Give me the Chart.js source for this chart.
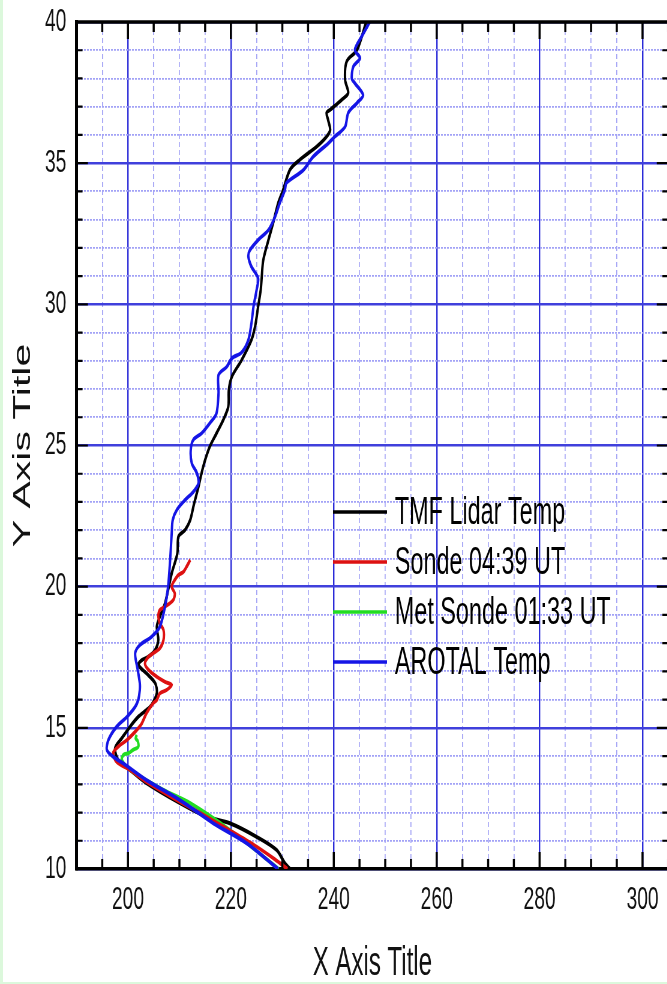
<!DOCTYPE html>
<html>
<head>
<meta charset="utf-8">
<script src="https://cdn.jsdelivr.net/npm/chart.js@4.4.1/dist/chart.umd.min.js"></script>
<style>
  html, body { margin: 0; padding: 0; overflow: hidden; background: #fff; }
  #wrap { position: absolute; left: 0; top: 0; width: 667px; height: 984px; overflow: hidden; }
  #chart { position: absolute; left: 0; top: 0; transform: scaleX(0.6); transform-origin: 0 0; }
  .strip-left { position: absolute; left: 0; top: 0; width: 3px; height: 984px; background: #dcf8dc; }
  .strip-bottom { position: absolute; left: 0; bottom: 0; width: 667px; height: 2px; background: #dcf8dc; }
</style>
</head>
<body>
<div id="wrap"><canvas id="chart" width="1120" height="984"></canvas></div>
<div class="strip-left"></div>
<div class="strip-bottom"></div>
<script>
// temperature profiles, [temperature, altitude]
const tmfProfile = [
  [231.5, 10.0], [230.5, 10.2], [228.9, 10.67], [225.0, 11.14], [219.8, 11.62], [215.3, 11.85],
  [210.1, 12.33], [203.6, 13.04], [200.4, 13.51], [198.1, 13.86], [197.5, 14.28], [198.8, 14.63],
  [200.4, 15.04], [202.0, 15.39], [203.6, 15.63], [204.6, 15.81], [205.6, 16.22], [205.3, 16.58],
  [203.6, 16.93], [202.0, 17.23], [202.7, 17.40], [204.0, 17.52], [205.3, 17.76], [205.9, 18.11],
  [205.6, 18.58], [206.2, 18.94], [207.2, 19.41], [207.8, 19.88], [208.5, 20.47], [209.6, 21.18],
  [209.8, 21.77], [211.1, 22.01], [212.1, 22.36], [212.8, 22.9], [213.7, 23.54], [214.3, 24.02],
  [215.0, 24.49], [215.9, 24.96], [217.2, 25.43], [218.5, 25.90], [219.5, 26.38], [219.6, 26.97],
  [220.2, 27.44], [222.1, 28.03], [224.0, 28.74], [224.7, 29.21], [225.3, 29.92], [225.8, 30.51],
  [226.0, 30.98], [226.3, 31.57], [227.3, 32.28], [228.2, 32.87], [229.2, 33.58], [230.1, 34.02],
  [231.5, 34.77], [233.4, 35.12], [236.7, 35.59], [238.6, 35.94], [239.3, 36.18], [238.9, 36.53],
  [238.6, 36.78], [239.3, 36.89], [241.5, 37.24], [242.8, 37.49], [242.2, 37.95], [242.5, 38.60],
  [244.5, 39.01], [246.3, 40.0]
];
const sondeProfile = [
  [231.0, 10.0], [228.5, 10.35], [224.5, 10.85], [219.0, 11.45], [215.3, 11.85], [210.1, 12.38],
  [203.6, 13.09], [200.4, 13.51], [197.8, 13.8], [197.1, 14.1], [198.1, 14.33], [199.8, 14.57],
  [201.4, 14.86], [202.7, 15.16], [203.6, 15.52], [204.9, 15.87], [205.6, 15.99], [206.2, 16.22],
  [207.5, 16.34], [208.5, 16.52], [207.2, 16.63], [205.6, 16.81], [204.0, 17.05], [203.3, 17.28],
  [204.0, 17.52], [204.9, 17.64], [206.2, 17.82], [206.9, 18.11], [206.9, 18.47], [206.2, 18.7],
  [205.9, 18.94], [206.2, 19.17], [207.2, 19.29], [208.8, 19.53], [209.1, 19.76], [208.5, 20.0],
  [209.1, 20.24], [209.8, 20.41], [210.8, 20.53], [211.4, 20.71], [211.9, 20.88], [212.1, 20.95]
];
const metSondeProfile = [
  [229.3, 10.0], [219.8, 11.38], [212.1, 12.33], [206.9, 12.8], [200.4, 13.51], [198.8, 13.86],
  [199.1, 14.04], [200.1, 14.1], [201.0, 14.22], [202.0, 14.33], [201.9, 14.53], [201.5, 14.62],
  [201.7, 14.75]
];
const arotalProfile = [
  [229.2, 10.0], [223.1, 10.91], [216.6, 11.62], [210.1, 12.44], [203.6, 13.15], [199.1, 13.74],
  [197.1, 13.98], [195.9, 14.22], [196.2, 14.57], [197.8, 15.04], [199.8, 15.39], [201.4, 15.75],
  [202.0, 15.99], [202.3, 16.34], [202.3, 16.58], [201.9, 17.05], [201.4, 17.64], [202.3, 17.93],
  [204.6, 18.23], [206.2, 18.58], [207.2, 19.29], [207.8, 20.0], [208.2, 20.95], [208.5, 21.89],
  [208.7, 22.36], [209.5, 22.72], [211.1, 23.07], [212.7, 23.36], [213.7, 23.66], [213.4, 24.02],
  [212.4, 24.37], [212.2, 24.84], [212.7, 25.2], [214.3, 25.43], [215.9, 25.79], [217.2, 26.14],
  [217.6, 26.85], [217.6, 27.5], [219.2, 27.79], [220.2, 28.09], [222.1, 28.3], [223.4, 28.74],
  [224.0, 29.33], [224.4, 29.92], [225.0, 30.51], [225.3, 30.92], [224.0, 31.33], [223.4, 31.69],
  [223.7, 31.92], [225.3, 32.28], [227.3, 32.63], [228.6, 33.11], [229.5, 33.59], [230.5, 34.05],
  [230.8, 34.3], [234.1, 34.76], [236.0, 35.23], [238.9, 35.7], [240.2, 35.94], [242.2, 36.29],
  [242.8, 36.78], [244.5, 37.13], [245.7, 37.41], [244.1, 37.83], [243.5, 38.0], [243.8, 38.42],
  [245.1, 38.72], [244.1, 39.01], [245.4, 39.48], [247.0, 40.0]
];

const seriesNames = ['TMF Lidar Temp', 'Sonde 04:39 UT', 'Met Sonde 01:33 UT', 'AROTAL Temp'];
const seriesColors = ['#000000', '#dd1111', '#22dd22', '#1515e6'];
const xTickLabels = [200, 220, 240, 260, 280, 300];
const yTickLabels = [10, 15, 20, 25, 30, 35, 40];
const xRange = [190, 305], xMinorStep = 5;
const yRange = [10, 40], yMinorStep = 1;

const FONT = "'Liberation Sans', Arial, sans-serif";
const MAJOR_BLUE = '#2b2bd8';
const MINOR_BLUE = '#a3a3f6';

function stepTicks(range, step) {
  const out = [];
  for (let v = range[0]; v <= range[1] + 1e-9; v += step) out.push({ value: v });
  return out;
}

// top frame + inward tick marks on all four sides
const frameTicks = {
  id: 'frameTicks',
  afterDraw(chart) {
    const { ctx, chartArea: a, scales: { x, y } } = chart;
    ctx.save();
    ctx.strokeStyle = '#000';
    ctx.lineWidth = 3.5;
    ctx.beginPath(); ctx.moveTo(a.left, a.top); ctx.lineTo(a.right, a.top); ctx.stroke();
    ctx.lineWidth = 5;
    ctx.beginPath(); ctx.moveTo(a.right + 2, a.top); ctx.lineTo(a.right + 2, a.bottom); ctx.stroke();
    ctx.lineWidth = 3.5;
    x.ticks.forEach(t => {
      const px = x.getPixelForValue(t.value);
      const len = xTickLabels.includes(t.value) ? 17 : 10;
      ctx.beginPath();
      ctx.moveTo(px, a.bottom); ctx.lineTo(px, a.bottom - len);
      ctx.moveTo(px, a.top); ctx.lineTo(px, a.top + len);
      ctx.stroke();
    });
    ctx.lineWidth = 2.2;
    y.ticks.forEach(t => {
      const py = y.getPixelForValue(t.value);
      const len = yTickLabels.includes(t.value) ? 19 : 10;
      ctx.beginPath();
      ctx.moveTo(a.left, py); ctx.lineTo(a.left + len, py);
      ctx.moveTo(a.right, py); ctx.lineTo(a.right - len, py);
      ctx.stroke();
    });
    ctx.restore();
  }
};

// legend inside the plot
const insideLegend = {
  id: 'insideLegend',
  afterDraw(chart) {
    const { ctx } = chart;
    ctx.save();
    ctx.font = '39px ' + FONT;
    ctx.textBaseline = 'middle';
    ctx.textAlign = 'left';
    chart.data.datasets.forEach((ds, i) => {
      const yy = 512 + i * 50;
      ctx.strokeStyle = ds.borderColor;
      ctx.lineWidth = 3.5;
      ctx.beginPath(); ctx.moveTo(555, yy); ctx.lineTo(645, yy); ctx.stroke();
      ctx.fillStyle = '#000';
      ctx.fillText(ds.label, 658, yy + 1);
    });
    ctx.restore();
  }
};

const profiles = [tmfProfile, sondeProfile, metSondeProfile, arotalProfile];
const drawOrder = [3, 1, 2, 0];

new Chart(document.getElementById('chart'), {
  type: 'scatter',
  data: {
    datasets: profiles.map((p, i) => ({
      label: seriesNames[i],
      data: p.map(([t, h]) => ({ x: t, y: h })),
      showLine: true,
      borderColor: seriesColors[i],
      backgroundColor: seriesColors[i],
      borderWidth: 4,
      pointRadius: 0,
      tension: 0.3,
      order: drawOrder[i]
    }))
  },
  options: {
    responsive: false,
    animation: false,
    layout: { padding: { top: 22, right: 6.3, bottom: 0, left: 0 } },
    plugins: { legend: { display: false }, tooltip: { enabled: false } },
    scales: {
      x: {
        type: 'linear',
        min: xRange[0], max: xRange[1],
        afterBuildTicks: s => { s.ticks = stepTicks(xRange, xMinorStep); },
        afterFit: s => { s.height = 115; s.paddingLeft = 0; s.paddingRight = 0; },
        ticks: {
          autoSkip: false, maxRotation: 0, padding: 12,
          color: '#111', font: { family: FONT, size: 32 },
          callback: v => xTickLabels.includes(v) ? String(v) : ''
        },
        grid: {
          drawTicks: false,
          color: c => xTickLabels.includes(c.tick && c.tick.value) ? MAJOR_BLUE : MINOR_BLUE,
          lineWidth: c => xTickLabels.includes(c.tick && c.tick.value) ? 2.4 : 1.7
        },
        border: {
          display: true, color: '#000', width: 3.5,
          dash: c => (c.tick && !xTickLabels.includes(c.tick.value)) ? [5, 3] : []
        },
        title: {
          display: true, text: 'X Axis Title', color: '#111',
          font: { family: FONT, size: 40, lineHeight: 1.0 }, padding: { top: 0, bottom: 0 }
        }
      },
      y: {
        type: 'linear',
        min: yRange[0], max: yRange[1],
        afterBuildTicks: s => { s.ticks = stepTicks(yRange, yMinorStep); },
        afterFit: s => { s.width = 127.5; s.paddingTop = 0; s.paddingBottom = 0; },
        ticks: {
          autoSkip: false, padding: 17,
          color: '#111', font: { family: FONT, size: 32 },
          callback: v => yTickLabels.includes(v) ? String(v) : ''
        },
        grid: {
          drawTicks: false,
          color: c => yTickLabels.includes(c.tick && c.tick.value) ? '#4040dc' : MINOR_BLUE,
          lineWidth: c => yTickLabels.includes(c.tick && c.tick.value) ? 2.6 : 1.8
        },
        border: {
          display: true, color: '#000', width: 5,
          dash: c => (c.tick && !yTickLabels.includes(c.tick.value)) ? [3, 2] : []
        },
        title: {
          display: true, text: 'Y Axis Title', color: '#111',
          font: { family: FONT, size: 41 }, padding: { top: 14, bottom: 0 }
        }
      }
    }
  },
  plugins: [frameTicks, insideLegend]
});
</script>
</body>
</html>
